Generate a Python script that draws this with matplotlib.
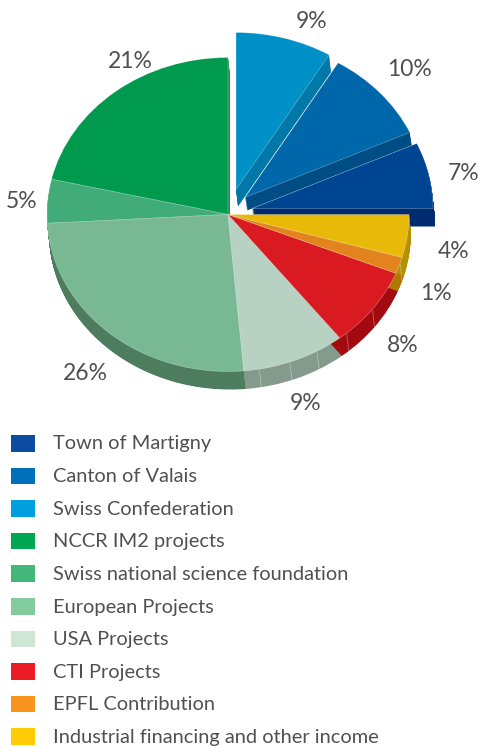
import numpy as np
import matplotlib
matplotlib.use("Agg")
import matplotlib.pyplot as plt
from matplotlib.patches import Wedge, Rectangle
from matplotlib.transforms import Affine2D

categories = ["Town of Martigny", "Canton of Valais", "Swiss Confederation",
              "NCCR IM2 projects", "Swiss national science foundation",
              "European Projects", "USA Projects", "CTI Projects",
              "EPFL Contribution", "Industrial financing and other income"]
shares = [6.8, 9.6, 8.6, 21.4, 4.5, 25.5, 9.2, 8.3, 1.7, 4.4]
share_labels = ["7%", "10%", "9%", "21%", "5%", "26%", "9%", "8%", "1%", "4%"]

legend_colors = ["#0D4DA1", "#0070BD", "#009FDF", "#00A651", "#43B77A",
                 "#82CB9C", "#CDE6D6", "#ED1C24", "#F7941E", "#FFCB05"]
top_colors = ["#004592", "#0068AA", "#0090C8", "#009A4E", "#41AC77",
              "#78B993", "#B7D2C2", "#DA1A21", "#E2831D", "#E9B90A"]
side_colors = ["#002B6E", "#004C84", "#0079A8", "#1E8F57", "#2F8A5C",
               "#4D7D5E", "#849A8C", "#A30A10", "#B07800", "#B59000"]
# slice displacement (px) and wall depth (px)
offsets = [(24, -6), (17, -17), (8, -25), (0, 0), (0, 0), (0, 0), (0, 0), (0, 0), (0, 0), (0, 0)]
depths = [18, 13, 17, 18, 18, 18, 18, 18, 18, 18]
label_pos = [(464, 174), (409, 70), (312, 21), (130, 61), (22, 201),
             (85, 373), (306, 404), (403, 345), (436, 294), (454, 252)]
rim_marks = [280, 290, 299.5, 311, 323, 342]

W, H = 481, 747
CX, CY, RX, RY = 228, 214.5, 181, 157
TEXT = "#505050"

fig = plt.figure(figsize=(W / 100, H / 100), dpi=100)
ax = fig.add_axes([0, 0, 1, 1])
ax.set_xlim(0, W)
ax.set_ylim(H, 0)
ax.axis("off")

edges = 360 * np.concatenate([[0], np.cumsum(shares)]) / np.sum(shares)


def tf(dx, dy):
    return Affine2D().scale(RX, -RY).translate(CX + dx, CY + dy) + ax.transData


def slice_patch(i, dx, dy, color, **kw):
    w = Wedge((0, 0), 1, edges[i], edges[i + 1], facecolor=color,
              transform=tf(dx, dy), **kw)
    ax.add_patch(w)


def draw_wall(i, z):
    ox, oy = offsets[i]
    d = depths[i]
    for k in np.arange(d, 0, -0.5):
        slice_patch(i, ox + 2 * k / d, oy + k, side_colors[i], edgecolor="none", zorder=z)


def draw_top(i, z):
    ox, oy = offsets[i]
    slice_patch(i, ox, oy, top_colors[i], edgecolor=(1, 1, 1, 0.35), linewidth=0.5, zorder=z)


# exploded slices, back to front
for z, i in zip((1, 3, 5), (2, 1, 0)):
    draw_wall(i, z)
    draw_top(i, z + 1)

# main body
main = range(3, len(shares))
for i in main:
    draw_wall(i, 7)
for ang in rim_marks:
    t = np.radians(ang)
    x = CX + RX * np.cos(t)
    y = CY - RY * np.sin(t)
    ax.plot([x, x + 2], [y + 1, y + 18], color="white", alpha=0.35, lw=0.6,
            zorder=8, solid_capstyle="butt")
for i in main:
    draw_top(i, 9)

for lab, (x, y) in zip(share_labels, label_pos):
    ax.text(x, y, lab, ha="center", va="center", fontsize=16.5, color=TEXT,
            family="Lato", zorder=20)

# legend
for n, (name, col) in enumerate(zip(categories, legend_colors)):
    y = 435 + n * 32.6
    ax.add_patch(Rectangle((11, y), 24, 16.5, facecolor=col, edgecolor="none"))
    ax.text(53, y + 9, name, ha="left", va="center", fontsize=14.45, color=TEXT,
            family="Lato")

fig.savefig("out.png", dpi=100, facecolor="white")
